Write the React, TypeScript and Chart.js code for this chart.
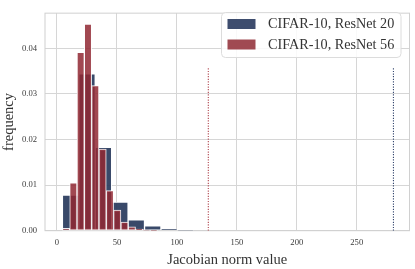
import React, { useEffect, useRef } from "react";
import { Chart, registerables } from "chart.js";

Chart.register(...registerables);

// ResNet 20 histogram (density), bin left edges and heights
const blueBinEdges = [4.5, 18.2, 31.9, 45.6, 59.3, 73.0, 86.7, 100.4];
const blueBinWidth = 13.7;
const blueHeights = [0.0078, 0.0344, 0.0183, 0.0063, 0.0024, 0.00106, 0.00036, 0.0001];

// ResNet 56 histogram (density)
const redBinEdges = [4.5, 10.6, 16.7, 22.8, 28.9, 35.0, 41.1, 47.2, 53.3, 59.4, 65.5, 71.6, 77.7];
const redBinWidth = 6.1;
const redHeights = [0.0005, 0.0105, 0.0391, 0.0453, 0.0318, 0.0179, 0.0088, 0.0045, 0.0019, 0.00085, 0.00036, 0.00015, 0.00006];

// maximum norm markers
const blueMax = 280.6;
const redMax = 126.2;
const markerTop = 0.0357;

const xTicks = [0, 50, 100, 150, 200, 250];
const yTicks = [0, 0.01, 0.02, 0.03, 0.04];
const labels = ["CIFAR-10, ResNet 20", "CIFAR-10, ResNet 56"];

const X_MIN = -10;
const X_MAX = 294;
const Y_MAX = 0.0477;

const BLUE = "rgba(40,57,92,0.92)";
const RED = "rgba(145,40,50,0.85)";
const BLUE_LINE = "#34466e";
const RED_LINE = "#b0464f";
const SERIF = "'Liberation Serif', 'DejaVu Serif', serif";

const frame = {
  id: "frame",
  beforeDatasetsDraw(chart: any) {
    const { ctx, chartArea } = chart;
    ctx.save();
    ctx.strokeStyle = "#d0d0d0";
    ctx.lineWidth = 1;
    ctx.strokeRect(chartArea.left, chartArea.top, chartArea.right - chartArea.left, chartArea.bottom - chartArea.top);
    ctx.restore();
  },
};

const legendBox = {
  id: "legendBox",
  afterDatasetsDraw(chart: any) {
    const { ctx } = chart;
    const x = 221.5, y = 12.5, w = 179.5, h = 45, r = 4;
    ctx.save();
    ctx.beginPath();
    ctx.moveTo(x + r, y);
    ctx.arcTo(x + w, y, x + w, y + h, r);
    ctx.arcTo(x + w, y + h, x, y + h, r);
    ctx.arcTo(x, y + h, x, y, r);
    ctx.arcTo(x, y, x + w, y, r);
    ctx.closePath();
    ctx.fillStyle = "rgba(255,255,255,0.85)";
    ctx.fill();
    ctx.strokeStyle = "#dcdcdc";
    ctx.lineWidth = 1;
    ctx.stroke();
    const colors = ["#3e4d6e", "#a04a52"];
    ctx.font = `14.2px ${SERIF}`;
    ctx.textBaseline = "middle";
    labels.forEach((lab, i) => {
      const cy = 24 + i * 20.5;
      ctx.fillStyle = colors[i];
      ctx.fillRect(227.5, cy - 5, 28, 10);
      ctx.fillStyle = "#333";
      ctx.fillText(lab, 268, cy + 0.5);
    });
    ctx.restore();
  },
};

export default function App() {
  const ref = useRef<HTMLCanvasElement>(null);
  useEffect(() => {
    if (!ref.current) return;
    const chart = new Chart(ref.current, {
      type: "bar",
      data: {
        datasets: [
          {
            type: "line",
            label: "max56",
            data: [{ x: redMax, y: 0 }, { x: redMax, y: markerTop }],
            borderColor: RED_LINE,
            borderWidth: 1.1,
            borderDash: [1.2, 1.4],
            pointRadius: 0,
            xAxisID: "x",
            order: -2,
          } as any,
          {
            type: "line",
            label: "max20",
            data: [{ x: blueMax, y: 0 }, { x: blueMax, y: markerTop }],
            borderColor: BLUE_LINE,
            borderWidth: 1.1,
            borderDash: [1.2, 1.4],
            pointRadius: 0,
            xAxisID: "x",
            order: -1,
          } as any,
          {
            label: labels[1],
            data: redBinEdges.map((e, i) => ({ x: e + redBinWidth / 2, y: redHeights[i] })),
            backgroundColor: RED,
            borderColor: "rgba(255,255,255,0.9)",
            borderWidth: 1,
            borderSkipped: false,
            xAxisID: "x2",
            grouped: false,
            barPercentage: 1,
            categoryPercentage: 1,
            order: 0,
          } as any,
          {
            label: labels[0],
            data: blueBinEdges.map((e, i) => ({ x: e + blueBinWidth / 2, y: blueHeights[i] })),
            backgroundColor: BLUE,
            borderColor: "rgba(255,255,255,0.9)",
            borderWidth: 1,
            borderSkipped: false,
            xAxisID: "x",
            grouped: false,
            barPercentage: 1,
            categoryPercentage: 1,
            order: 1,
          } as any,
        ],
      },
      options: {
        animation: false,
        responsive: false,
        events: [],
        layout: { padding: { left: 0, right: 5.5, top: 5, bottom: 0 } },
        plugins: {
          legend: { display: false },
          tooltip: { enabled: false },
        },
        scales: {
          x: {
            type: "linear",
            min: X_MIN,
            max: X_MAX,
            offset: false,
            afterBuildTicks: (s: any) => {
              s.ticks = xTicks.map((v) => ({ value: v }));
            },
            afterFit: (s: any) => {
              s.height = 38.3;
            },
            grid: { color: "#d6d6d6", lineWidth: 1, drawTicks: false, offset: false },
            border: { display: false },
            ticks: {
              padding: 7,
              color: "#3a3a3a",
              font: { family: SERIF, size: 8.6 },
              maxRotation: 0,
              callback: (v: any) => String(v),
            },
            title: {
              display: true,
              text: "Jacobian norm value",
              color: "#333",
              font: { family: SERIF, size: 14.5 },
              padding: { top: 0, bottom: 0 },
            },
          },
          x2: {
            type: "linear",
            min: X_MIN,
            max: X_MAX,
            offset: false,
            display: false,
            grid: { offset: false },
            afterBuildTicks: (s: any) => {
              s.ticks = [];
            },
          },
          y: {
            type: "linear",
            min: 0,
            max: Y_MAX,
            afterBuildTicks: (s: any) => {
              s.ticks = yTicks.map((v) => ({ value: v }));
            },
            afterFit: (s: any) => {
              s.width = 45;
            },
            grid: { color: "#d6d6d6", lineWidth: 1, drawTicks: false },
            border: { display: false },
            ticks: {
              padding: 8,
              color: "#3a3a3a",
              font: { family: SERIF, size: 8.6 },
              callback: (v: any) => Number(v).toFixed(2),
            },
            title: {
              display: true,
              text: "frequency",
              color: "#333",
              font: { family: SERIF, size: 14.5 },
              padding: { top: 0, bottom: 0 },
            },
          },
        },
      },
      plugins: [frame, legendBox],
    } as any);
    return () => chart.destroy();
  }, []);
  return (
    <div style={{ position: "fixed", left: 0, top: 0, width: 415, height: 269, background: "#fff" }}>
      <canvas ref={ref} width={415} height={269} style={{ width: 415, height: 269, display: "block" }} />
    </div>
  );
}
